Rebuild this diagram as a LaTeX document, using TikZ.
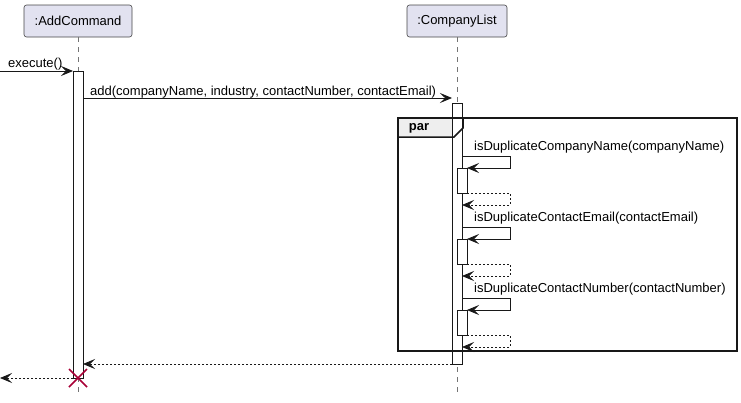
\documentclass[tikz,border=0pt]{standalone}
\usepackage{fontspec}
\setmainfont{Liberation Sans}
\usetikzlibrary{arrows.meta}
\definecolor{ink}{HTML}{181818}
\definecolor{partfill}{HTML}{E2E2F0}
\definecolor{xred}{HTML}{A80036}
\definecolor{hdr}{HTML}{EEEEEE}
\begin{document}
\begin{tikzpicture}[x=1pt,y=-1pt,
  font=\fontsize{13}{15}\selectfont,
  participant/.style={draw=ink!80, fill=partfill, rounded corners=2.5pt, line width=0.6pt, inner sep=0pt, minimum height=32pt},
  lifeline/.style={draw=ink!60, line width=0.6pt, dash pattern=on 5pt off 5pt},
  actbar/.style={draw=ink, fill=white, line width=0.8pt},
  msg/.style={draw=ink, line width=0.8pt, -{Stealth[length=12pt,width=10pt,inset=5pt]}},
  ret/.style={msg, dash pattern=on 2pt off 2pt},
  lbl/.style={anchor=west, inner sep=0pt, text=black}
]
\useasboundingbox (0,0) rectangle (741,402);

% participants
\node[participant, minimum width=108pt] (ac) at (78,21) {:AddCommand};
\node[participant, minimum width=100pt] (cl) at (457,21) {:CompanyList};

% lifelines
\coordinate (acEnd) at (78,392);
\coordinate (clEnd) at (457,392);
\draw[lifeline] (ac.south) -- (acEnd);
\draw[lifeline] (cl.south) -- (clEnd);

% par frame header (fill)
\fill[hdr] (398,118) -- (463,118) -- (463,128) -- (454,137) -- (398,137) -- cycle;

% activation bars
\draw[actbar] (73,71) rectangle (83,378);
\draw[actbar] (452,103) rectangle (462,364);
\draw[actbar] (457,168) rectangle (467,193);
\draw[actbar] (457,239) rectangle (467,264);
\draw[actbar] (457,310) rectangle (467,335);

% par frame outline
\draw[ink, line width=1.5pt] (398,118) rectangle (737,351);
\draw[ink, line width=1.5pt] (463,118) -- (463,128) -- (454,137) -- (398,137);
\node[inner sep=0pt, font=\fontsize{13}{15}\selectfont\bfseries] (par) at (419,128) {par};

% coordinates for messages
\coordinate (in0) at (0,71);
\coordinate (acA) at (73,71);
\coordinate (acB) at (83,98);
\coordinate (clA) at (452,98);

\draw[msg] (in0) -- (acA);
\node[lbl] (lexec) at (8,64) {execute()};

\draw[msg] (acB) -- (clA);
\node[lbl] (ladd) at (90,92) {add(companyName, industry, contactNumber, contactEmail)};

% self messages
\foreach \y/\t in {0/isDuplicateCompanyName(companyName), 71/isDuplicateContactEmail(contactEmail), 142/isDuplicateContactNumber(contactNumber)}{
  \coordinate (s1) at (462,156+\y);
  \coordinate (s2) at (510,156+\y);
  \coordinate (s3) at (510,168+\y);
  \coordinate (s4) at (467,168+\y);
  \draw[msg] (s1) -- (s2) -- (s3) -- (s4);
  \coordinate (r1) at (467,193+\y);
  \coordinate (r2) at (510,193+\y);
  \coordinate (r3) at (510,205+\y);
  \coordinate (r4) at (462,205+\y);
  \draw[ret] (r1) -- (r2) -- (r3) -- (r4);
  \node[lbl] at (474,147+\y) {\t};
}

% returns
\coordinate (clR) at (452,364);
\coordinate (acR) at (83,364);
\draw[ret] (clR) -- (acR);
\coordinate (acL) at (73,378);
\coordinate (out0) at (0,378);
\draw[ret] (acL) -- (out0);

% destroy
\draw[xred, line width=1.5pt] (69,369) -- (87,387) (69,387) -- (87,369);
\end{tikzpicture}
\end{document}
